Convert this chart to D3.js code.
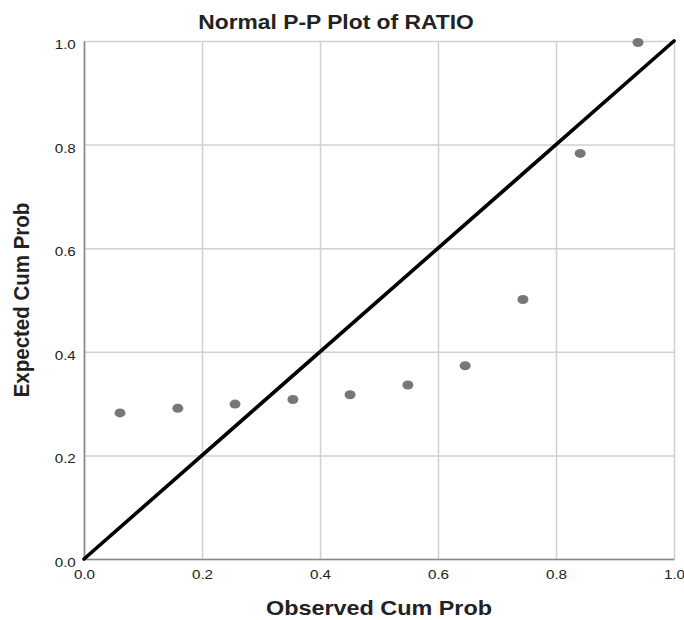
<!DOCTYPE html>
<html>
<head>
<meta charset="utf-8">
<script src="https://cdn.jsdelivr.net/npm/d3@7"></script>
<style>
  body { margin: 0; background: #fff; }
  svg text { font-family: Arial, "Liberation Sans", sans-serif; fill: #222; }
</style>
</head>
<body>
<svg id="chart"></svg>
<script>
// Values
const observedCum = [0.061, 0.159, 0.256, 0.354, 0.451, 0.549, 0.646, 0.744, 0.841, 0.939];
const expectedCum = [0.282, 0.291, 0.299, 0.308, 0.317, 0.336, 0.373, 0.501, 0.783, 0.997];
const tickValues = [0, 0.2, 0.4, 0.6, 0.8, 1.0];
const chartTitle = 'Normal P-P Plot of RATIO';
const xTitle = 'Observed Cum Prob';
const yTitle = 'Expected Cum Prob';

const config = {
  containerWidth: 684,
  containerHeight: 620,
  margin: {top: 41, right: 10, bottom: 61, left: 84},
  stretch: 1.17   // the reference is drawn slightly wider than tall
};

const width = config.containerWidth - config.margin.left - config.margin.right;
const height = config.containerHeight - config.margin.top - config.margin.bottom;

const svg = d3.select('#chart')
    .attr('width', config.containerWidth)
    .attr('height', config.containerHeight);

const chart = svg.append('g')
    .attr('transform', `translate(${config.margin.left},${config.margin.top})`);

const xScale = d3.scaleLinear().domain([0, 1]).range([0, width]);
const yScale = d3.scaleLinear().domain([0, 1]).range([height, 0]);

// Gridlines
const xGrid = chart.append('g')
    .attr('transform', `translate(0,${height})`)
    .call(d3.axisBottom(xScale).tickValues(tickValues).tickSize(-height).tickFormat(''));
const yGrid = chart.append('g')
    .call(d3.axisLeft(yScale).tickValues(tickValues).tickSize(-width).tickFormat(''));
[xGrid, yGrid].forEach(g => {
  g.select('.domain').remove();
  g.selectAll('.tick line').attr('stroke', '#d0d0d0').attr('stroke-width', 1.5);
});

// Axes
const xAxisG = chart.append('g')
    .attr('transform', `translate(0,${height})`)
    .call(d3.axisBottom(xScale).tickValues(tickValues).tickSize(0).tickFormat(d3.format('.1f')));
const yAxisG = chart.append('g')
    .call(d3.axisLeft(yScale).tickValues(tickValues).tickSize(0).tickFormat(d3.format('.1f')));

[xAxisG, yAxisG].forEach(g => {
  g.select('.domain').attr('stroke', '#888').attr('stroke-width', 1.6);
  g.selectAll('text')
      .style('font-size', '13px')
      .style('font-family', 'Arial, "Liberation Sans", sans-serif')
      .attr('fill', '#222');
});
xAxisG.selectAll('text').attr('y', 11)
    .attr('transform', `scale(${config.stretch},1)`);
yAxisG.selectAll('text').attr('x', -7).attr('dy', '0.58em')
    .attr('transform', `scale(${config.stretch},1)`);

// Reference diagonal
chart.append('line')
    .attr('x1', xScale(0)).attr('y1', yScale(0))
    .attr('x2', xScale(1)).attr('y2', yScale(1))
    .attr('stroke', '#000')
    .attr('stroke-width', 3.6)
    .attr('stroke-linecap', 'round');

// Points
chart.selectAll('.point')
    .data(observedCum.map((d, i) => ({x: d, y: expectedCum[i]})))
  .join('ellipse')
    .attr('class', 'point')
    .attr('cx', d => xScale(d.x))
    .attr('cy', d => yScale(d.y))
    .attr('rx', 5.5)
    .attr('ry', 4.5)
    .attr('fill', '#777');

// Titles
svg.append('text')
    .attr('transform', `translate(336,29) scale(${config.stretch},1)`)
    .attr('text-anchor', 'middle')
    .style('font-size', '19.5px')
    .style('font-weight', 'bold')
    .text(chartTitle);

svg.append('text')
    .attr('transform', `translate(379,615) scale(1.2,1)`)
    .attr('text-anchor', 'middle')
    .style('font-size', '19.5px')
    .style('font-weight', 'bold')
    .text(xTitle);

svg.append('text')
    .attr('transform', `translate(28.5,300) rotate(-90) scale(1,1.05)`)
    .attr('text-anchor', 'middle')
    .style('font-size', '20.5px')
    .style('font-weight', 'bold')
    .text(yTitle);
</script>
</body>
</html>
